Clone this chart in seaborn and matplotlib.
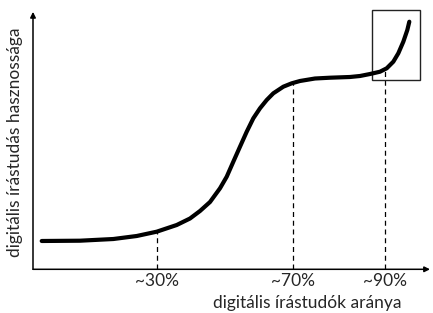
"""Schematic: usefulness of digital literacy vs. share of digitally literate people."""

import matplotlib
matplotlib.use("Agg")
import matplotlib.pyplot as plt
from matplotlib.patches import Rectangle
import pandas as pd
import seaborn as sns

# axis runs 0..100 on both directions (schematic, no real scale)
curve_x = [2.18, 11.75, 20.08, 25.93, 30.93, 35.93, 39.25, 41.75, 44.25, 46.75,
           48.43, 50.08, 51.75, 53.43, 55.08, 56.75, 58.43, 60.08, 62.58, 64.68,
           66.75, 70.5, 74.25, 79.25, 81.75, 84.25, 86.75, 88.43, 90.08, 91.33,
           92.58, 93.58, 94.08]
curve_y = [10.71, 10.82, 11.46, 12.60, 14.23, 16.76, 19.22, 22.06, 25.46, 30.65,
           35.04, 40.71, 46.39, 52.06, 57.13, 60.92, 64.06, 66.59, 69.09, 70.37,
           71.25, 72.19, 72.49, 72.76, 73.14, 73.89, 74.76, 76.05, 78.55, 81.73,
           86.11, 90.54, 93.68]

marker_x = [30.93, 64.9, 87.9]
marker_top = [14.2, 70.3, 75.4]
marker_labels = ["~30%", "~70%", "~90%"]

box_x = [84.7, 96.8]
box_y = [71.7, 98.1]

xlabel = "digitális írástudók aránya"
ylabel = "digitális írástudás hasznossága"

sns.set_style("white")
plt.rcParams["font.family"] = ["Lato", "DejaVu Sans"]

df = pd.DataFrame({"x": curve_x, "y": curve_y})

fig = plt.figure(figsize=(4.33, 3.13), dpi=100)
W, H = 433, 313
ax = fig.add_axes([33 / W, (H - 269.3) / H, 400 / W, 264.3 / H])

sns.lineplot(data=df, x="x", y="y", ax=ax, color="black", lw=3.0, sort=False,
             solid_capstyle="round", solid_joinstyle="round")

for mx, mt in zip(marker_x, marker_top):
    ax.plot([mx, mx], [0, mt], color="black", lw=0.9, ls=(0, (4, 3)), zorder=1)

ax.add_patch(Rectangle((box_x[0], box_y[0]), box_x[1] - box_x[0], box_y[1] - box_y[0],
                       fill=False, edgecolor="#222222", lw=1.0, clip_on=False))

# arrow axes
for end in [(99.25, 0), (0, 97.4)]:
    ax.annotate("", xy=end, xytext=(0, 0),
                arrowprops=dict(arrowstyle="-|>", lw=1.1, color="black",
                                mutation_scale=8, shrinkA=0, shrinkB=0),
                annotation_clip=False)

ax.set_xlim(0, 100)
ax.set_ylim(0, 100)
sns.despine(ax=ax, left=True, bottom=True)

ax.set_xticks(marker_x, marker_labels, fontsize=12.5)
ax.set_yticks([])
ax.tick_params(axis="x", length=0, pad=3)

ax.set_xlabel(xlabel, fontsize=12.5)
ax.xaxis.set_label_coords(0.686, -0.128)
ax.xaxis.label.set_va("center")
ax.set_ylabel(ylabel, fontsize=12.5)
ax.yaxis.set_label_coords(-0.045, 0.48)
ax.yaxis.label.set_va("center")

fig.savefig("out.png", dpi=100)
plt.close(fig)
